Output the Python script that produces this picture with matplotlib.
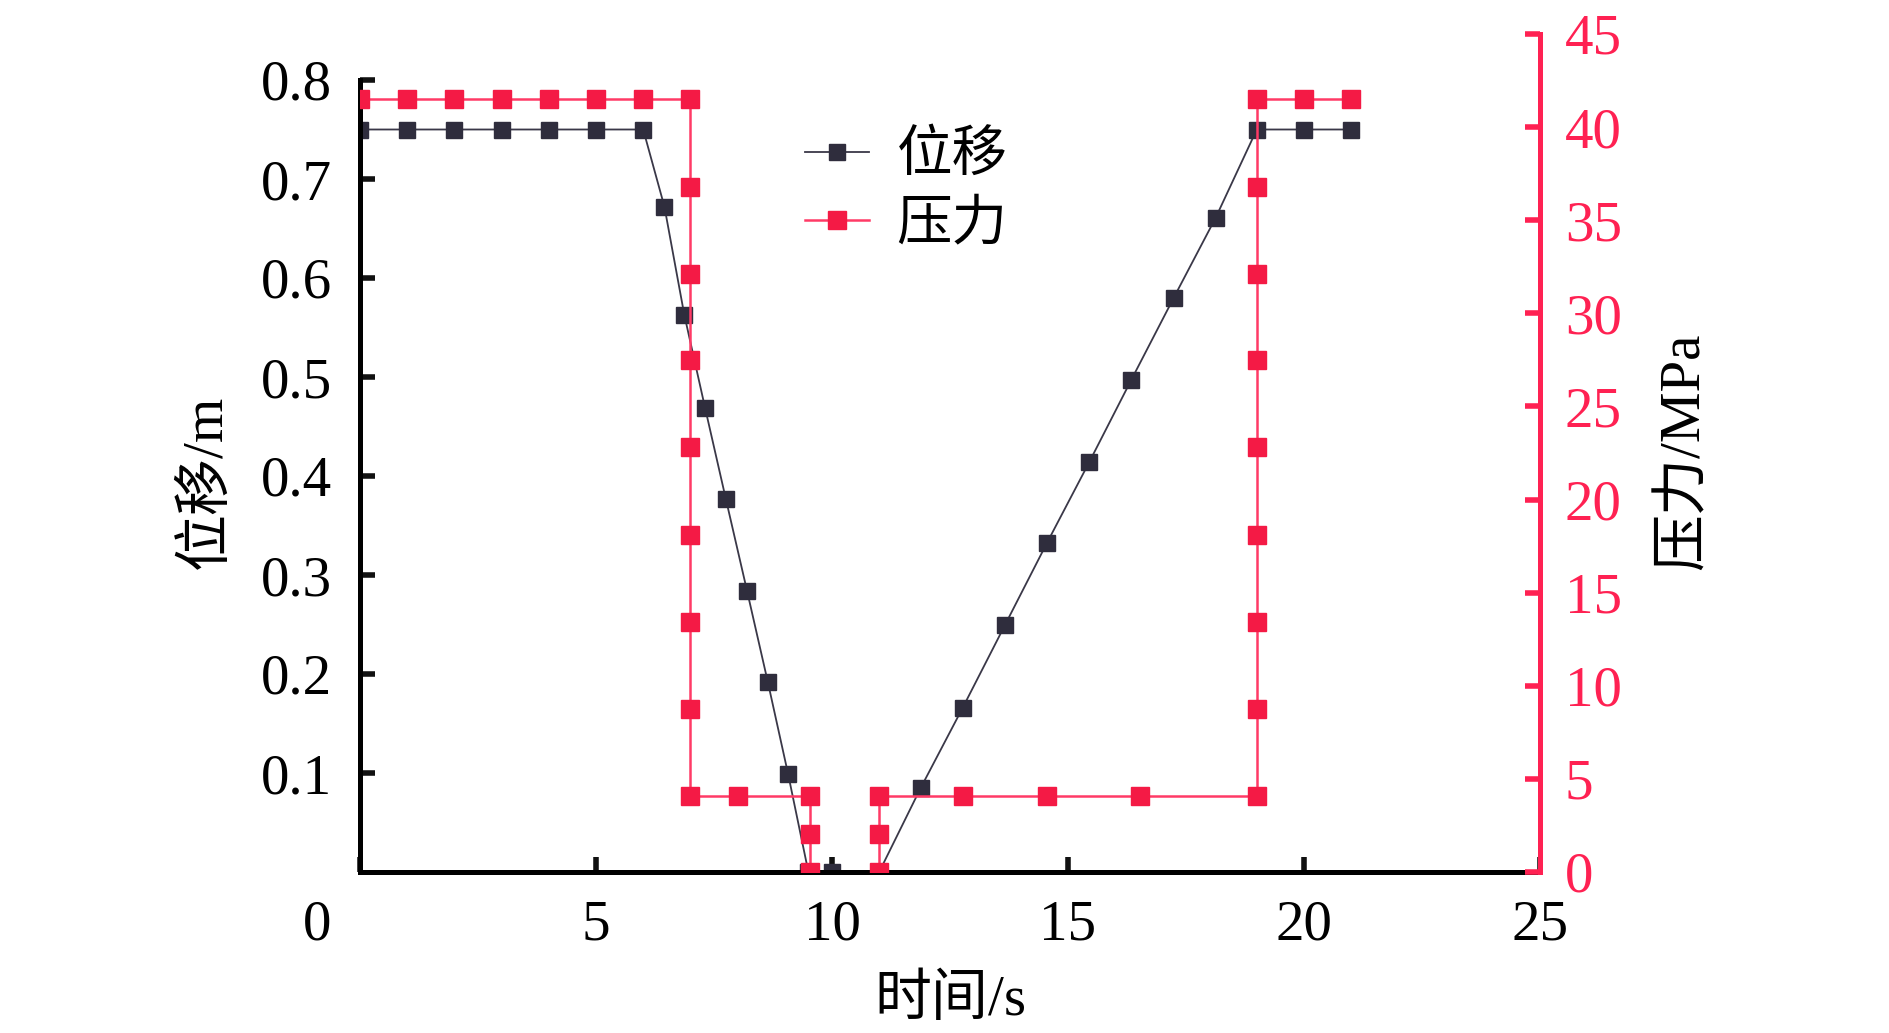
import matplotlib.pyplot as plt

plt.rcParams['font.family'] = ['Liberation Serif', 'Noto Sans CJK SC']

# displacement (m) vs time (s)
t_disp = [0, 1, 2, 3, 4, 5, 6, 6.45, 6.87, 7.31, 7.75, 8.2, 8.64, 9.07, 9.5, 10.0,
          11.0, 11.88, 12.77, 13.66, 14.55, 15.45, 16.34, 17.24, 18.13, 19, 20, 21]
disp = [0.75, 0.75, 0.75, 0.75, 0.75, 0.75, 0.75, 0.672, 0.563, 0.469, 0.377, 0.284,
        0.192, 0.099, 0.0, 0.0, 0.0, 0.085, 0.166, 0.249, 0.332, 0.414, 0.497, 0.580,
        0.661, 0.75, 0.75, 0.75]

# pressure (MPa) vs time (s); nan = break in the curve (valve fully open)
nan = float('nan')
t_pres = [0, 1, 2, 3, 4, 5, 6, 7, 7, 7, 7, 7, 7, 7, 7, 7, 8, 9.53, 9.53, 9.53, 10.3,
          11, 11, 11, 12.78, 14.56, 16.53, 19, 19, 19, 19, 19, 19, 19, 19, 19, 20, 21]
pres = [41.5, 41.5, 41.5, 41.5, 41.5, 41.5, 41.5, 41.5, 36.8, 32.1, 27.5, 22.8, 18.1,
        13.4, 8.75, 4.1, 4.1, 4.1, 2.05, 0, nan, 0, 2.05, 4.1, 4.1, 4.1, 4.1, 4.1, 8.75,
        13.4, 18.1, 22.8, 27.5, 32.1, 36.8, 41.5, 41.5, 41.5]

x_ticks = [0, 5, 10, 15, 20, 25]
left_ticks = [0.1, 0.2, 0.3, 0.4, 0.5, 0.6, 0.7, 0.8]
right_ticks = [0, 5, 10, 15, 20, 25, 30, 35, 40, 45]

RED = '#ff2152'
DARK = '#2f2d3d'
FS = 41

fig = plt.figure(figsize=(18.9, 10.33), dpi=100)
W, H = 1890, 1033
ax1 = fig.add_axes([360 / W, 1 - 872 / H, 1180 / W, 838 / H])
ax2 = ax1.twinx()

l1, = ax1.plot(t_disp, disp, color='#3a3848', lw=1.3, marker='s', ms=12,
               mfc=DARK, mec=DARK, label='位移')
l2, = ax2.plot(t_pres, pres, color='#ff3a66', lw=1.8, marker='s', ms=12.5,
               mfc='#f41a45', mec='#f41a45', label='压力')

ax1.set_xlim(0, 25)
ax1.set_ylim(0, 0.8 * 838 / 792)
ax2.set_ylim(0, 45)

# spines
for s in ['top', 'right']:
    ax1.spines[s].set_visible(False)
for s in ['top', 'left', 'bottom']:
    ax2.spines[s].set_visible(False)
ax1.spines['left'].set_bounds(0, 0.8)
ax1.spines['left'].set_linewidth(3.6)
ax1.spines['bottom'].set_linewidth(3.6)
ax2.spines['right'].set_linewidth(3.6)
ax2.spines['right'].set_color(RED)

ax1.set_xticks(x_ticks)
ax1.set_xticklabels([''] + [str(v) for v in x_ticks[1:]])
ax1.set_yticks(left_ticks)
ax1.set_yticklabels([f'{v:.1f}' for v in left_ticks])
ax2.set_yticks(right_ticks)

ax1.tick_params(axis='both', direction='in', length=11, width=4, labelsize=FS,
                pad=20, color='#111111')
ax2.tick_params(axis='y', direction='in', length=11, width=4, labelsize=FS,
                pad=18, color=RED, labelcolor=RED)

# origin label sits left of the spine in the original
ax1.text(-43 / 1180, -28 / 838, '0', transform=ax1.transAxes, ha='center',
         va='top', fontsize=FS)

ax1.set_xlabel('时间/s', fontsize=FS)
ax1.xaxis.set_label_coords(0.5, -0.122)
ax1.set_ylabel('位移/m', fontsize=FS)
ax1.yaxis.set_label_coords(-0.108, 0.465)
ax2.set_ylabel('压力/MPa', fontsize=FS)
ax2.yaxis.set_label_coords(1.1, 0.502)

leg = ax2.legend(handles=[l1, l2], loc='center left', frameon=False,
                 bbox_to_anchor=(805 / W, 1 - 191.5 / H),
                 bbox_transform=fig.transFigure, fontsize=40,
                 handlelength=1.15, handletextpad=0.5, borderpad=0,
                 borderaxespad=0, labelspacing=0.3)

fig.savefig('out.png', dpi=100)
